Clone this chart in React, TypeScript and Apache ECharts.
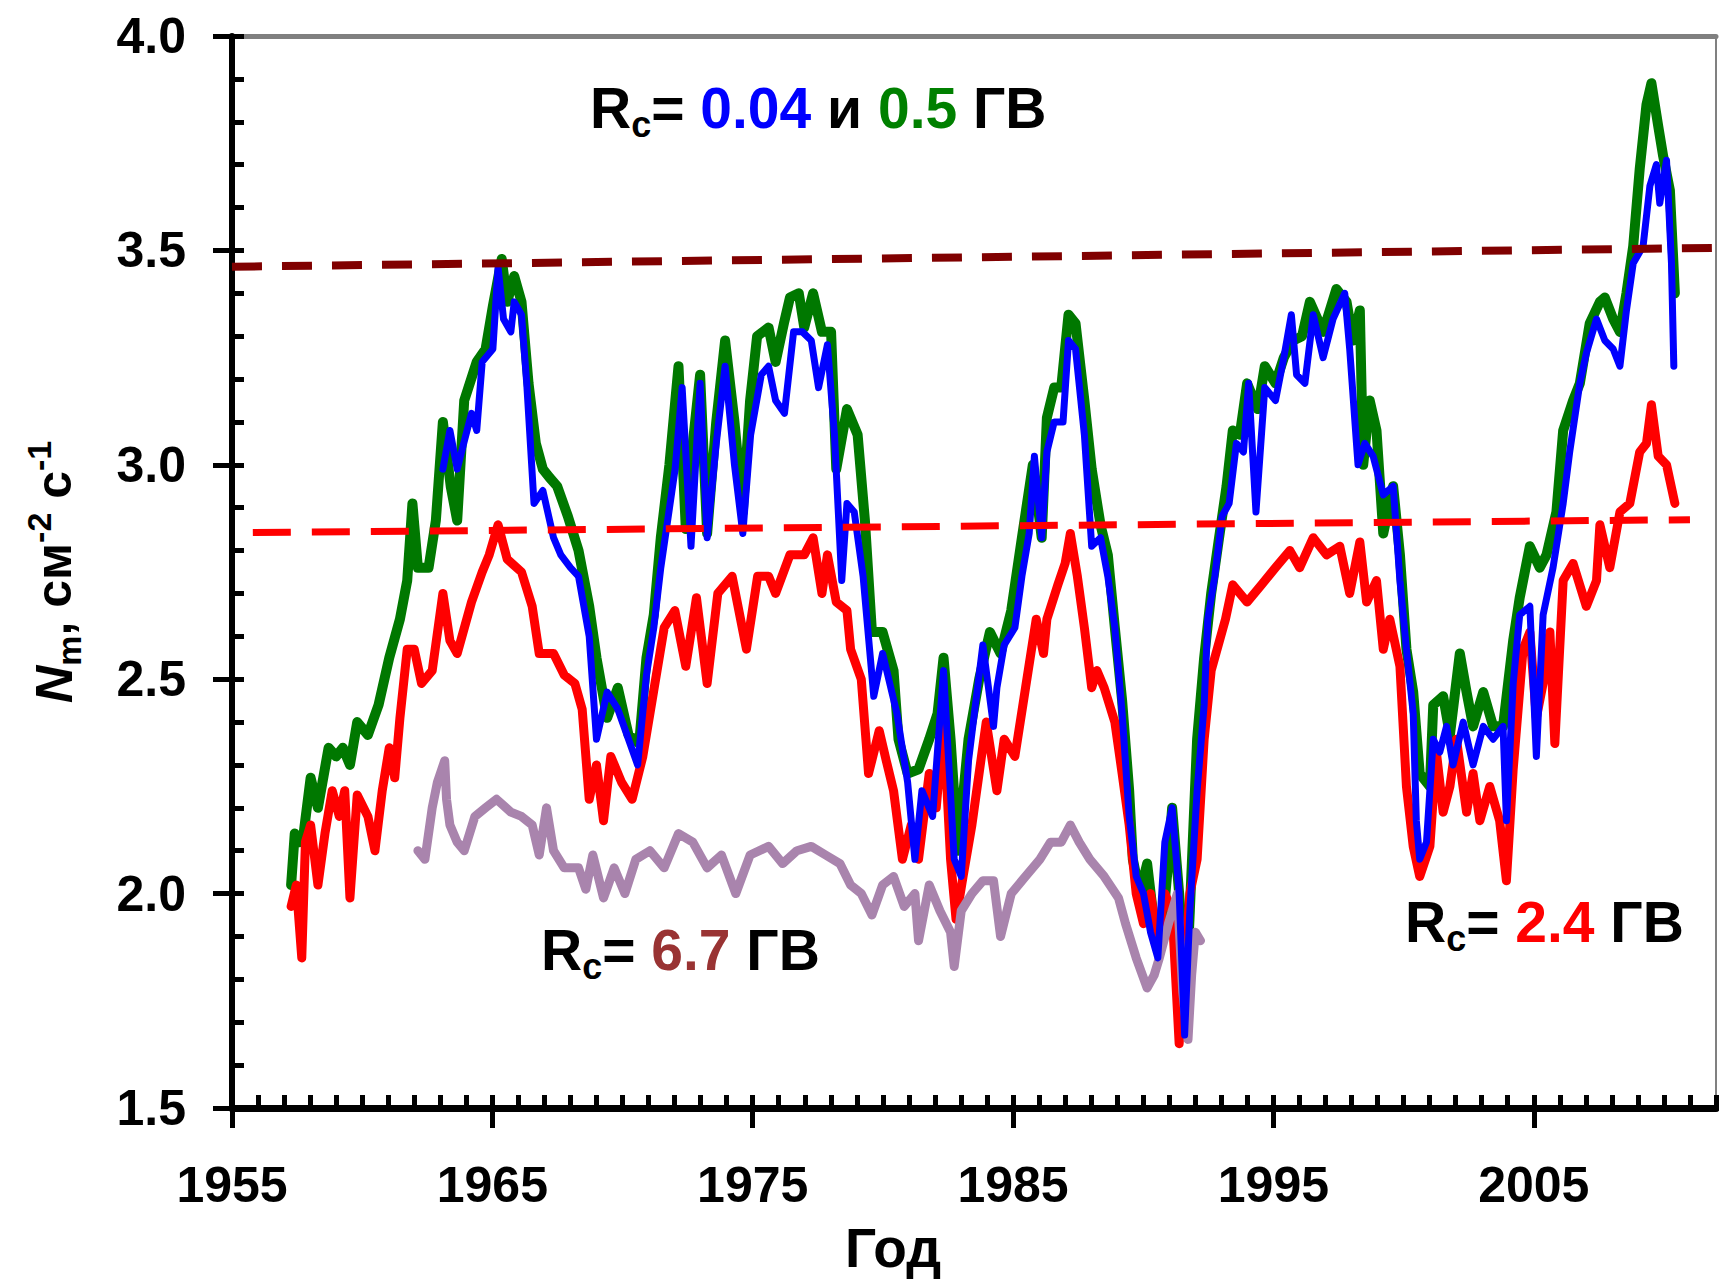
import React, { useEffect, useRef } from "react";
import * as echarts from "echarts";

// ---------- tick labels ----------
const xTickYears = [1955, 1965, 1975, 1985, 1995, 2005];

// ---------- data: [year, N_m] ----------
const green05: [number, number][] = [
  [1957.27, 2.02], [1957.41, 2.14], [1957.6, 2.12], [1957.75, 2.14], [1958.02, 2.27], [1958.3, 2.2], [1958.71, 2.34], [1959.0, 2.32],
  [1959.26, 2.34], [1959.53, 2.3], [1959.81, 2.4], [1960.22, 2.37], [1960.63, 2.44], [1961.04, 2.55], [1961.45, 2.64], [1961.73, 2.73],
  [1961.93, 2.91], [1962.14, 2.76], [1962.55, 2.76], [1962.83, 2.87], [1963.1, 3.1], [1963.4, 2.95], [1963.65, 2.87], [1963.92, 3.15],
  [1964.4, 3.24], [1964.74, 3.27], [1965.02, 3.37], [1965.36, 3.48], [1965.57, 3.38], [1965.84, 3.44], [1966.12, 3.38], [1966.39, 3.19],
  [1966.67, 3.05], [1966.94, 2.99], [1967.2, 2.97], [1967.49, 2.95], [1967.9, 2.88], [1968.31, 2.8], [1968.72, 2.67], [1969.0, 2.55],
  [1969.41, 2.41], [1969.82, 2.48], [1970.23, 2.37], [1970.64, 2.35], [1970.92, 2.55], [1971.2, 2.65], [1971.47, 2.83], [1971.8, 3.0],
  [1972.15, 3.23], [1972.43, 2.85], [1972.7, 3.05], [1972.98, 3.21], [1973.25, 2.84], [1973.6, 3.1], [1973.94, 3.29], [1974.3, 3.1],
  [1974.62, 2.89], [1974.9, 3.15], [1975.17, 3.3], [1975.61, 3.32], [1975.88, 3.24], [1976.2, 3.33], [1976.43, 3.39], [1976.77, 3.4],
  [1976.98, 3.32], [1977.32, 3.4], [1977.66, 3.31], [1978.01, 3.31], [1978.21, 2.99], [1978.62, 3.13], [1979.03, 3.07], [1979.31, 2.87],
  [1979.58, 2.61], [1979.99, 2.61], [1980.41, 2.52], [1980.6, 2.36], [1980.95, 2.28], [1981.37, 2.29], [1981.78, 2.36], [1982.1, 2.42],
  [1982.33, 2.55], [1982.6, 2.36], [1982.88, 2.1], [1983.29, 2.36], [1983.7, 2.5], [1984.11, 2.61], [1984.52, 2.56], [1984.93, 2.66],
  [1985.34, 2.83], [1985.76, 3.0], [1986.1, 2.83], [1986.3, 3.11], [1986.58, 3.18], [1986.85, 3.18], [1987.13, 3.35], [1987.4, 3.33],
  [1987.74, 3.15], [1988.02, 2.99], [1988.36, 2.86], [1988.64, 2.79], [1988.91, 2.62], [1989.19, 2.45], [1989.46, 2.24], [1989.6, 2.08],
  [1989.87, 2.0], [1990.15, 2.07], [1990.42, 1.93], [1990.69, 1.89], [1990.97, 2.08], [1991.11, 2.2], [1991.38, 2.0], [1991.65, 1.77],
  [1991.79, 1.96], [1992.07, 2.36], [1992.34, 2.55], [1992.61, 2.7], [1992.89, 2.82], [1993.2, 2.95], [1993.44, 3.08], [1993.71, 3.07],
  [1993.99, 3.19], [1994.4, 3.13], [1994.67, 3.23], [1995.08, 3.19], [1995.4, 3.25], [1995.76, 3.29], [1996.1, 3.3], [1996.4, 3.38],
  [1996.91, 3.31], [1997.42, 3.41], [1997.81, 3.38], [1998.06, 3.29], [1998.32, 3.36], [1998.45, 3.0], [1998.7, 3.15], [1998.96, 3.08],
  [1999.22, 2.84], [1999.6, 2.95], [1999.86, 2.79], [2000.11, 2.57], [2000.37, 2.47], [2000.62, 2.28], [2001.01, 2.25], [2001.14, 2.44],
  [2001.52, 2.46], [2001.78, 2.37], [2002.16, 2.56], [2002.42, 2.47], [2002.67, 2.39], [2003.06, 2.47], [2003.44, 2.39], [2003.82, 2.39],
  [2004.21, 2.59], [2004.46, 2.69], [2004.85, 2.81], [2005.23, 2.76], [2005.49, 2.79], [2005.87, 2.89], [2006.13, 3.08], [2006.51, 3.15],
  [2006.77, 3.19], [2007.15, 3.33], [2007.54, 3.38], [2007.73, 3.39], [2008.05, 3.34], [2008.31, 3.31], [2008.56, 3.4], [2008.82, 3.51],
  [2009.07, 3.69], [2009.33, 3.84], [2009.52, 3.89], [2009.78, 3.79], [2009.97, 3.72], [2010.23, 3.64], [2010.42, 3.4],
];

const blue004: [number, number][] = [
  [1963.1, 2.99], [1963.37, 3.08], [1963.65, 2.99], [1963.9, 3.05], [1964.2, 3.12], [1964.4, 3.08], [1964.61, 3.24], [1965.02, 3.27],
  [1965.22, 3.46], [1965.43, 3.34], [1965.71, 3.31], [1965.84, 3.38], [1966.12, 3.35], [1966.32, 3.19], [1966.6, 2.91], [1966.94, 2.94],
  [1967.35, 2.83], [1967.63, 2.79], [1968.0, 2.76], [1968.31, 2.74], [1968.72, 2.6], [1969.0, 2.36], [1969.41, 2.47], [1969.82, 2.43],
  [1970.23, 2.36], [1970.58, 2.3], [1970.92, 2.51], [1971.2, 2.62], [1971.47, 2.76], [1972.02, 2.99], [1972.29, 3.18], [1972.63, 2.81],
  [1972.98, 3.19], [1973.25, 2.83], [1973.6, 3.05], [1973.94, 3.23], [1974.3, 3.0], [1974.62, 2.84], [1974.92, 3.07], [1975.33, 3.21],
  [1975.61, 3.23], [1975.88, 3.15], [1976.22, 3.12], [1976.57, 3.31], [1976.91, 3.31], [1977.25, 3.29], [1977.53, 3.18], [1977.87, 3.28],
  [1978.14, 3.07], [1978.42, 2.73], [1978.62, 2.91], [1978.9, 2.89], [1979.24, 2.74], [1979.65, 2.46], [1979.99, 2.56], [1980.54, 2.42],
  [1980.95, 2.26], [1981.23, 2.08], [1981.5, 2.24], [1981.91, 2.18], [1982.33, 2.52], [1982.74, 2.08], [1983.01, 2.04], [1983.29, 2.31],
  [1983.84, 2.58], [1984.25, 2.39], [1984.38, 2.48], [1984.66, 2.58], [1985.07, 2.62], [1985.34, 2.74], [1985.62, 2.84], [1985.82, 3.02],
  [1986.1, 2.83], [1986.3, 3.03], [1986.58, 3.1], [1986.92, 3.1], [1987.13, 3.29], [1987.4, 3.27], [1987.74, 3.07], [1988.02, 2.81],
  [1988.36, 2.83], [1988.64, 2.74], [1988.91, 2.62], [1989.19, 2.42], [1989.46, 2.18], [1989.73, 2.04], [1990.01, 2.0], [1990.28, 1.91],
  [1990.56, 1.85], [1990.83, 2.12], [1991.11, 2.2], [1991.38, 2.0], [1991.59, 1.67], [1991.79, 1.96], [1992.07, 2.24], [1992.34, 2.44],
  [1992.48, 2.64], [1992.75, 2.74], [1993.03, 2.88], [1993.3, 2.91], [1993.58, 3.05], [1993.85, 3.03], [1994.05, 3.19], [1994.33, 2.89],
  [1994.67, 3.18], [1995.08, 3.15], [1995.4, 3.25], [1995.69, 3.35], [1995.89, 3.21], [1996.21, 3.19], [1996.53, 3.35], [1996.91, 3.25],
  [1997.29, 3.34], [1997.74, 3.4], [1997.93, 3.27], [1998.25, 3.0], [1998.51, 3.05], [1998.83, 3.02], [1999.22, 2.93], [1999.6, 2.95],
  [1999.86, 2.73], [2000.11, 2.57], [2000.37, 2.42], [2000.49, 2.17], [2000.62, 2.08], [2000.88, 2.12], [2001.14, 2.36], [2001.39, 2.33],
  [2001.65, 2.39], [2001.9, 2.3], [2002.29, 2.4], [2002.67, 2.3], [2003.06, 2.39], [2003.44, 2.36], [2003.82, 2.39], [2003.95, 2.17],
  [2004.21, 2.49], [2004.46, 2.65], [2004.85, 2.67], [2005.1, 2.32], [2005.36, 2.65], [2005.74, 2.76], [2006.13, 2.91], [2006.38, 3.03],
  [2006.77, 3.19], [2007.02, 3.26], [2007.41, 3.34], [2007.73, 3.29], [2008.05, 3.27], [2008.31, 3.23], [2008.56, 3.36], [2008.82, 3.47],
  [2009.2, 3.51], [2009.46, 3.65], [2009.71, 3.7], [2009.84, 3.61], [2010.1, 3.71], [2010.29, 3.47], [2010.38, 3.23],
];

const red24: [number, number][] = [
  [1957.27, 1.97], [1957.47, 2.02], [1957.68, 1.85], [1957.82, 2.12], [1958.02, 2.16], [1958.3, 2.02], [1958.57, 2.14], [1958.85, 2.24],
  [1959.12, 2.18], [1959.33, 2.24], [1959.53, 1.99], [1959.81, 2.23], [1960.22, 2.18], [1960.49, 2.1], [1960.77, 2.24], [1961.04, 2.34],
  [1961.25, 2.27], [1961.45, 2.41], [1961.73, 2.57], [1962.0, 2.57], [1962.28, 2.49], [1962.69, 2.52], [1963.1, 2.7], [1963.37, 2.59],
  [1963.65, 2.56], [1964.2, 2.68], [1964.61, 2.75], [1964.88, 2.79], [1965.22, 2.86], [1965.57, 2.78], [1966.12, 2.75], [1966.53, 2.67],
  [1966.8, 2.56], [1967.35, 2.56], [1967.76, 2.51], [1968.17, 2.49], [1968.45, 2.43], [1968.72, 2.22], [1969.0, 2.3], [1969.27, 2.17],
  [1969.55, 2.32], [1969.96, 2.26], [1970.37, 2.22], [1970.78, 2.32], [1971.19, 2.47], [1971.6, 2.62], [1972.01, 2.66], [1972.43, 2.53],
  [1972.84, 2.69], [1973.25, 2.49], [1973.66, 2.7], [1974.21, 2.74], [1974.76, 2.57], [1975.19, 2.74], [1975.61, 2.74], [1975.88, 2.7],
  [1976.43, 2.79], [1976.98, 2.79], [1977.32, 2.83], [1977.66, 2.7], [1977.87, 2.79], [1978.21, 2.68], [1978.62, 2.66], [1978.76, 2.57],
  [1979.17, 2.5], [1979.45, 2.28], [1979.86, 2.38], [1980.13, 2.31], [1980.41, 2.24], [1980.75, 2.08], [1981.09, 2.16], [1981.37, 2.08],
  [1981.78, 2.28], [1982.05, 2.2], [1982.33, 2.4], [1982.6, 2.08], [1982.81, 1.94], [1983.08, 2.04], [1983.42, 2.16], [1983.97, 2.4],
  [1984.38, 2.24], [1984.66, 2.36], [1985.07, 2.32], [1985.48, 2.48], [1985.89, 2.64], [1986.17, 2.56], [1986.3, 2.64], [1986.72, 2.72],
  [1987.0, 2.77], [1987.2, 2.84], [1987.47, 2.74], [1987.74, 2.62], [1988.02, 2.48], [1988.22, 2.52], [1988.5, 2.48], [1988.91, 2.4],
  [1989.19, 2.28], [1989.46, 2.16], [1989.73, 2.0], [1990.01, 1.93], [1990.28, 2.0], [1990.56, 1.89], [1990.83, 2.0], [1991.11, 1.96],
  [1991.38, 1.65], [1991.79, 2.0], [1992.07, 2.08], [1992.34, 2.36], [1992.61, 2.52], [1993.16, 2.64], [1993.44, 2.72], [1993.99, 2.68],
  [1994.54, 2.72], [1995.08, 2.76], [1995.63, 2.8], [1996.01, 2.76], [1996.53, 2.83], [1997.04, 2.79], [1997.55, 2.81], [1997.93, 2.7],
  [1998.32, 2.82], [1998.58, 2.68], [1998.96, 2.73], [1999.22, 2.57], [1999.47, 2.64], [1999.86, 2.53], [2000.11, 2.25], [2000.37, 2.11],
  [2000.62, 2.04], [2001.01, 2.11], [2001.26, 2.33], [2001.52, 2.19], [2001.78, 2.25], [2002.03, 2.36], [2002.42, 2.19], [2002.67, 2.28],
  [2002.93, 2.17], [2003.31, 2.25], [2003.69, 2.17], [2003.95, 2.03], [2004.21, 2.29], [2004.59, 2.57], [2004.85, 2.61], [2005.1, 2.41],
  [2005.36, 2.49], [2005.62, 2.61], [2005.81, 2.35], [2006.13, 2.73], [2006.51, 2.77], [2007.02, 2.67], [2007.41, 2.73], [2007.54, 2.86],
  [2007.92, 2.76], [2008.31, 2.89], [2008.69, 2.91], [2009.07, 3.03], [2009.33, 3.05], [2009.52, 3.14], [2009.78, 3.02], [2010.1, 3.0],
  [2010.42, 2.91],
];

const purple67: [number, number][] = [
  [1962.14, 2.1], [1962.41, 2.08], [1962.69, 2.2], [1962.89, 2.26], [1963.17, 2.31], [1963.24, 2.22], [1963.37, 2.16], [1963.65, 2.12],
  [1963.92, 2.1], [1964.33, 2.18], [1964.74, 2.2], [1965.16, 2.22], [1965.71, 2.19], [1966.12, 2.18], [1966.53, 2.16], [1966.8, 2.09],
  [1967.08, 2.2], [1967.35, 2.1], [1967.76, 2.06], [1968.31, 2.06], [1968.59, 2.01], [1968.86, 2.09], [1969.27, 1.99], [1969.68, 2.06],
  [1970.09, 2.0], [1970.51, 2.08], [1971.05, 2.1], [1971.6, 2.06], [1972.15, 2.14], [1972.7, 2.12], [1973.25, 2.06], [1973.8, 2.09],
  [1974.35, 2.0], [1974.9, 2.09], [1975.61, 2.11], [1976.15, 2.07], [1976.7, 2.1], [1977.25, 2.11], [1977.8, 2.09], [1978.35, 2.07],
  [1978.76, 2.02], [1979.17, 2.0], [1979.58, 1.95], [1979.99, 2.02], [1980.41, 2.04], [1980.82, 1.97], [1981.23, 2.0], [1981.37, 1.89],
  [1981.78, 2.02], [1982.19, 1.96], [1982.6, 1.91], [1982.74, 1.83], [1983.01, 1.96], [1983.42, 2.0], [1983.84, 2.03], [1984.25, 2.03],
  [1984.52, 1.9], [1984.93, 2.0], [1985.48, 2.04], [1986.03, 2.08], [1986.44, 2.12], [1986.85, 2.12], [1987.2, 2.16], [1987.54, 2.12],
  [1987.95, 2.08], [1988.5, 2.04], [1989.05, 1.99], [1989.32, 1.93], [1989.73, 1.85], [1990.15, 1.78], [1990.42, 1.81], [1990.62, 1.85],
  [1990.97, 1.93], [1991.31, 2.0], [1991.52, 1.77], [1991.72, 1.66], [1991.86, 1.81], [1992.0, 1.91], [1992.2, 1.89],
];

// trend lines (dashed)
const trendHigh: [number, number][] = [[1955, 3.462], [2012, 3.506]];
const trendLow: [number, number][] = [[1955.8, 2.842], [2011, 2.872]];

const FONT = "'Liberation Sans', Arial, Helvetica, sans-serif";

function buildOption(): any {
  const annBase = { fontFamily: FONT, fontWeight: "bold", fontSize: 57, lineHeight: 68 };
  const rich = {
    k: { ...annBase, fill: "#000000" },
    s: { fontFamily: FONT, fontWeight: "bold", fontSize: 36, lineHeight: 36, verticalAlign: "bottom", fill: "#000000" },
    b: { ...annBase, fill: "#0000ff" },
    g: { ...annBase, fill: "#008000" },
    m: { ...annBase, fill: "#993333" },
    r: { ...annBase, fill: "#ff0000" },
  };
  const lineSeries = (name: string, data: [number, number][], color: string, width: number, z: number) => ({
    type: "line",
    name,
    data,
    xAxisIndex: 0,
    yAxisIndex: 0,
    symbol: "none",
    showSymbol: false,
    z,
    lineStyle: { color, width, join: "round", cap: "round" },
  });
  const tickStyle = { color: "#000", width: 5 };
  return {
    animation: false,
    backgroundColor: "#ffffff",
    grid: { left: 232, top: 36, right: 3, bottom: 174, show: true, borderColor: "#808080", borderWidth: 2, containLabel: false },
    xAxis: [
      {
        type: "value", min: 1955, max: 2012, position: "bottom",
        axisLine: { show: true, onZero: false, lineStyle: { color: "#000", width: 7 } },
        axisTick: { show: true, inside: false, length: 20, lineStyle: tickStyle, customValues: xTickYears },
        axisLabel: {
          show: true, margin: 52, fontSize: 50, fontWeight: "bold", color: "#000", fontFamily: FONT,
          customValues: xTickYears, formatter: (v: number) => String(Math.round(v)),
        },
        splitLine: { show: false },
        name: "Год", nameLocation: "middle", nameGap: 112,
        nameTextStyle: { fontSize: 55, fontWeight: "bold", color: "#000", fontFamily: FONT, padding: [0, 162, 0, 0] },
      },
      {
        type: "value", min: 1955, max: 2012, interval: 1, position: "bottom", offset: 0,
        axisLine: { show: false, onZero: false },
        axisTick: { show: true, inside: true, length: 13, lineStyle: tickStyle },
        axisLabel: { show: false }, splitLine: { show: false },
      },
      {
        type: "value", min: 1955, max: 2012, position: "top",
        axisLine: { show: true, onZero: false, lineStyle: { color: "#808080", width: 5 } },
        axisTick: { show: false }, axisLabel: { show: false }, splitLine: { show: false },
      },
    ],
    yAxis: [
      {
        type: "value", min: 1.5, max: 4.0, interval: 0.5, position: "left",
        axisLine: { show: true, onZero: false, lineStyle: { color: "#000", width: 6 } },
        axisTick: { show: true, inside: false, length: 19, lineStyle: tickStyle },
        axisLabel: { margin: 46, fontSize: 50, fontWeight: "bold", color: "#000", fontFamily: FONT, formatter: (v: number) => v.toFixed(1) },
        splitLine: { show: false },
        name: "{ni|N}{sb|m}{t|, см}{sp|-2}{t| с}{sp|-1}",
        nameLocation: "middle", nameRotate: 90, nameGap: 146,
        nameTextStyle: {
          rich: {
            ni: { fontFamily: FONT, fontWeight: "bold", fontStyle: "italic", fontSize: 52, lineHeight: 64, color: "#000" },
            t: { fontFamily: FONT, fontWeight: "bold", fontSize: 50, lineHeight: 64, color: "#000" },
            sb: { fontFamily: FONT, fontWeight: "bold", fontSize: 34, lineHeight: 34, verticalAlign: "bottom", color: "#000" },
            sp: { fontFamily: FONT, fontWeight: "bold", fontSize: 34, lineHeight: 34, verticalAlign: "top", color: "#000" },
          },
        },
      },
      {
        type: "value", min: 1.5, max: 4.0, interval: 0.1, position: "left", offset: 0,
        axisLine: { show: false, onZero: false },
        axisTick: { show: true, inside: true, length: 12, lineStyle: tickStyle },
        axisLabel: { show: false }, splitLine: { show: false },
      },
    ],
    series: [
      lineSeries("Rc = 0.5 ГВ", green05, "#007800", 10, 2),
      lineSeries("Rc = 2.4 ГВ", red24, "#ff0000", 9, 3),
      lineSeries("Rc = 6.7 ГВ", purple67, "#a984ad", 9, 4),
      lineSeries("Rc = 0.04 ГВ", blue004, "#0000ff", 7, 5),
      {
        type: "line", name: "тренд 0.04/0.5", data: trendHigh, symbol: "none", z: 6,
        lineStyle: { color: "#800000", width: 8, type: [30, 20], cap: "butt" },
      },
      {
        type: "line", name: "тренд 2.4", data: trendLow, symbol: "none", z: 6,
        lineStyle: { color: "#ff0000", width: 7, type: [38, 21], cap: "butt" },
      },
    ],
    graphic: [
      {
        type: "text", x: 590, y: 108, z: 10,
        style: { text: "{k|R}{s|c}{k|= }{b|0.04}{k| и }{g|0.5}{k| ГВ}", rich, verticalAlign: "middle", align: "left" },
      },
      {
        type: "text", x: 541, y: 950, z: 10,
        style: { text: "{k|R}{s|c}{k|= }{m|6.7}{k| ГВ}", rich, verticalAlign: "middle", align: "left" },
      },
      {
        type: "text", x: 1405, y: 922, z: 10,
        style: { text: "{k|R}{s|c}{k|= }{r|2.4}{k| ГВ}", rich, verticalAlign: "middle", align: "left" },
      },
    ],
  };
}

export default function App() {
  const ref = useRef<HTMLDivElement>(null);
  useEffect(() => {
    document.body.style.margin = "0";
    const chart = echarts.init(ref.current as HTMLDivElement, null, { renderer: "svg" });
    chart.setOption(buildOption());
    return () => chart.dispose();
  }, []);
  return <div ref={ref} style={{ width: 1719, height: 1282 }} />;
}
